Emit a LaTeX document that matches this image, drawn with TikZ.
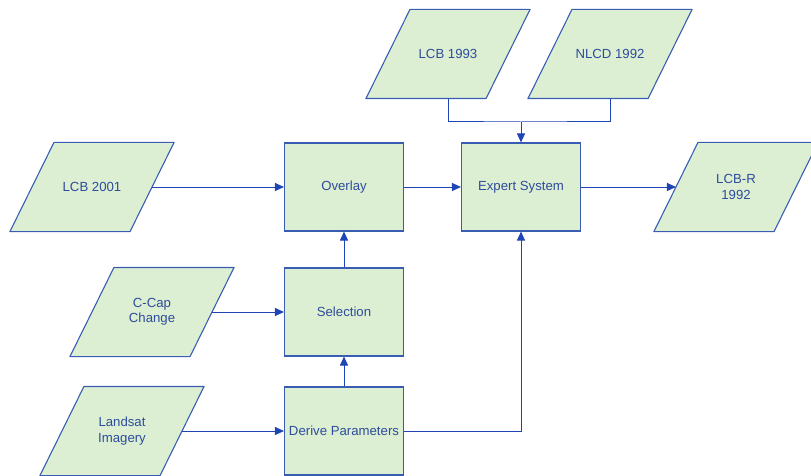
\documentclass[tikz,border=0pt]{standalone}
\usepackage{fontspec}
\setmainfont{Liberation Sans}
\usetikzlibrary{backgrounds,arrows.meta}
\definecolor{boxfill}{HTML}{DCEFD2}
\definecolor{boxline}{HTML}{3A5DB4}
\definecolor{textblue}{HTML}{2E4C9C}
\definecolor{linkblue}{HTML}{1E44B6}
\tikzset{stage/.style={shape=rectangle, minimum width=119pt, minimum height=88pt,
  inner sep=0, draw=boxline, fill=boxfill, line width=1.1pt, text=textblue,
  font=\fontsize{13.2}{15.5}\selectfont, align=center},
  dataset/.style={stage, draw=none, fill=none},
  datashape/.style={draw=boxline, fill=boxfill, line width=1.1pt, line join=round},
  link/.style={draw=linkblue, line width=1pt}}
\begin{document}
\begin{tikzpicture}[x=1pt, y=-1pt, >={Triangle[length=9pt,width=8pt]}]
    \useasboundingbox (0,0) rectangle (811,476);
    \node [dataset] (lcb01) at (92,187) {LCB 2001};
    \node [dataset] (lcb93) at (448,54) {LCB 1993};
    \node [dataset] (nlcd) at (610,54) {NLCD 1992};
    \node [dataset] (lcbr) at (736,187) {LCB-R\\1992};
    \node [dataset] (ccap) at (152,312) {C-Cap\\Change};
    \node [dataset] (landsat) at (122,431) {Landsat\\Imagery};
    \begin{scope}[on background layer]
        \foreach \d in {lcb01, lcb93, nlcd, lcbr, ccap, landsat}
            \path [datashape] ([xshift=-22pt]\d.south west) -- ([xshift=-22pt]\d.south east)
                -- ([xshift=22pt]\d.north east) -- ([xshift=22pt]\d.north west) -- cycle;
    \end{scope}
    \node [stage] (overlay) at (344,187) {Overlay};
    \node [stage] (select) at (344,312) {Selection};
    \node [stage] (derive) at (344,431) {Derive Parameters};
    \node [stage] (expert) at (521,187) {Expert System};
    \coordinate (merge) at (expert.north |- 0,122);
    \draw [link] (lcb93.south) |- (merge) -| (nlcd.south);
    \draw [link, ->] (merge) -- (expert.north);
    \draw [link, ->] (lcb01) -- (overlay);
    \draw [link, ->] (overlay) -- (expert);
    \draw [link, ->] (expert) -- (lcbr);
    \draw [link, ->] (ccap) -- (select);
    \draw [link, ->] (landsat) -- (derive);
    \draw [link, ->] (derive) -- (select);
    \draw [link, ->] (select) -- (overlay);
    \draw [link, ->] (derive) -| (expert);
\end{tikzpicture}
\end{document}
